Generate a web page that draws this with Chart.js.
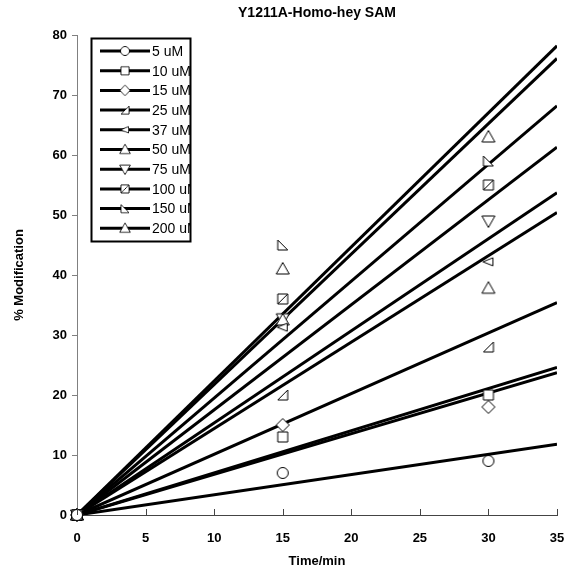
<!DOCTYPE html>
<html>
<head>
<meta charset="utf-8">
<script src="https://cdn.jsdelivr.net/npm/chart.js@4/dist/chart.umd.min.js"></script>
<style>
  html, body { margin: 0; padding: 0; background: #fff; }
  #wrap { width: 568px; height: 573px; }
</style>
</head>
<body>
<div id="wrap"><canvas id="chart" width="568" height="573"></canvas></div>
<script>
// data
const times = [0, 15, 30];
const labels = ['5 uM', '10 uM', '15 uM', '25 uM', '37 uM', '50 uM', '75 uM', '100 uM', '150 uM', '200 uM'];
const c5 = [0, 7, 9];
const c10 = [0, 13, 20];
const c15 = [0, 15, 18];
const c25 = [0, 20, 28];
const c37 = [0, 31.3, 42.2];
const c50 = [0, 32.5, 37.8];
const c75 = [0, 32.7, 49];
const c100 = [0, 36, 55];
const c150 = [0, 45, 59];
const c200 = [0, 41, 63];
// fitted lines: value at the end of the x range
const fitX = [0, 35];
const fitEnd = [11.8, 24.6, 23.7, 35.4, 53.7, 50.4, 61.3, 68.2, 76.1, 78.2];
const xTicks = [0, 5, 10, 15, 20, 25, 30, 35];
const yTicks = [0, 10, 20, 30, 40, 50, 60, 70, 80];

const series = [c5, c10, c15, c25, c37, c50, c75, c100, c150, c200];

// marker shapes
function shape(ctx, kind) {
    ctx.beginPath();
    switch (kind) {
        case 'circle': ctx.arc(0, 0, 5.5, 0, Math.PI * 2); break;
        case 'square': ctx.rect(-5, -5, 10, 10); break;
        case 'diamond':
            ctx.moveTo(0, -6.5); ctx.lineTo(6.5, 0); ctx.lineTo(0, 6.5); ctx.lineTo(-6.5, 0); ctx.closePath(); break;
        case 'rtri':
            ctx.moveTo(-5, 5); ctx.lineTo(5, 5); ctx.lineTo(5, -5); ctx.closePath(); break;
        case 'ltri':
            ctx.moveTo(-5.5, 0); ctx.lineTo(4.5, -4); ctx.lineTo(4.5, 4); ctx.closePath(); break;
        case 'up':
            ctx.moveTo(0, -6.5); ctx.lineTo(6.5, 5); ctx.lineTo(-6.5, 5); ctx.closePath(); break;
        case 'down':
            ctx.moveTo(0, 6.5); ctx.lineTo(6.5, -5); ctx.lineTo(-6.5, -5); ctx.closePath(); break;
        case 'sqdiag':
            ctx.rect(-5, -5, 10, 10); break;
        case 'ltri2':
            ctx.moveTo(-5, -5); ctx.lineTo(-5, 5); ctx.lineTo(5, 5); ctx.closePath(); break;
    }
    ctx.fillStyle = '#fff';
    ctx.fill();
    ctx.stroke();
    if (kind === 'sqdiag') {
        ctx.beginPath();
        ctx.moveTo(-5, 5); ctx.lineTo(5, -5);
        ctx.stroke();
    }
}

function makeMarker(kind) {
    const c = document.createElement('canvas');
    c.width = 16; c.height = 16;
    const ctx = c.getContext('2d');
    ctx.translate(8, 8);
    ctx.strokeStyle = '#000';
    ctx.lineWidth = 1;
    shape(ctx, kind);
    return c;
}

const kinds = ['circle', 'square', 'diamond', 'rtri', 'ltri', 'up', 'down', 'sqdiag', 'ltri2', 'up'];
const markers = kinds.map(makeMarker);

const datasets = [];
series.forEach((vals, i) => {
    datasets.push({
        label: labels[i],
        data: times.map((t, j) => ({ x: t, y: vals[j] })),
        showLine: false,
        pointStyle: markers[i],
        pointRadius: 8,
        clip: false,
        order: 0
    });
    datasets.push({
        label: labels[i] + ' fit',
        data: fitX.map((t, j) => ({ x: t, y: j === 0 ? 0 : fitEnd[i] })),
        showLine: true,
        borderColor: '#000',
        borderWidth: 3,
        pointRadius: 0,
        order: 1
    });
});

// title, inward x ticks and boxed legend
const extras = {
    id: 'extras',
    afterDraw(chart) {
        const ctx = chart.ctx;
        const x = chart.scales.x;
        const area = chart.chartArea;
        ctx.save();
        ctx.fillStyle = '#000';
        ctx.font = 'bold 14px "Liberation Sans", Arial, sans-serif';
        ctx.textAlign = 'center';
        ctx.textBaseline = 'middle';
        ctx.fillText('Y1211A-Homo-hey SAM', 317, 13);

        ctx.strokeStyle = '#444';
        ctx.lineWidth = 1;
        xTicks.forEach(t => {
            const px = Math.round(x.getPixelForValue(t)) + 0.5;
            ctx.beginPath();
            ctx.moveTo(px, area.bottom);
            ctx.lineTo(px, area.bottom - 6);
            ctx.stroke();
        });

        // legend
        const bx = 91.5, by = 38.5, bw = 99, bh = 203;
        ctx.fillStyle = '#fff';
        ctx.fillRect(bx, by, bw, bh);
        ctx.save();
        ctx.beginPath();
        ctx.rect(bx, by, bw, bh);
        ctx.clip();
        ctx.strokeStyle = '#000';
        ctx.font = '14px "Liberation Sans", Arial, sans-serif';
        ctx.textAlign = 'left';
        labels.forEach((lab, i) => {
            const ly = 51 + i * 19.7;
            ctx.beginPath();
            ctx.lineWidth = 3;
            ctx.moveTo(100, ly);
            ctx.lineTo(150, ly);
            ctx.stroke();
            ctx.drawImage(markers[i], 125 - 6.5, ly - 6.5, 13, 13);
            ctx.fillStyle = '#000';
            ctx.fillText(lab, 152, ly + 1);
        });
        ctx.restore();
        ctx.strokeStyle = '#000';
        ctx.lineWidth = 2;
        ctx.strokeRect(bx, by, bw, bh);
        ctx.restore();
    }
};

new Chart(document.getElementById('chart'), {
    type: 'scatter',
    data: { datasets },
    options: {
        responsive: false,
        animation: false,
        layout: { padding: { top: 35, right: 11, left: 0, bottom: 0 } },
        scales: {
            x: {
                type: 'linear',
                min: 0, max: 35,
                afterFit(s) { s.height = 58; s.paddingLeft = 0; s.paddingRight = 0; },
                afterBuildTicks(s) { s.ticks = xTicks.map(v => ({ value: v })); },
                grid: { display: false },
                border: { color: '#444', width: 1 },
                ticks: { color: '#000', font: { family: '"Liberation Sans", Arial', size: 13, weight: 'bold' }, padding: 8 },
                title: { display: true, text: 'Time/min', color: '#000', font: { family: '"Liberation Sans", Arial', size: 13, weight: 'bold' }, padding: { top: 10 } }
            },
            y: {
                type: 'linear',
                min: 0, max: 80,
                afterFit(s) { s.width = 77; },
                afterBuildTicks(s) { s.ticks = yTicks.map(v => ({ value: v })); },
                grid: { drawOnChartArea: false, tickLength: 5, color: '#808080' },
                border: { color: '#808080', width: 1 },
                ticks: { color: '#000', font: { family: '"Liberation Sans", Arial', size: 13, weight: 'bold' }, padding: 5 },
                title: { display: true, text: '% Modification', color: '#000', font: { family: '"Liberation Sans", Arial', size: 13, weight: 'bold' }, padding: { top: 12, bottom: 0 } }
            }
        },
        plugins: {
            legend: { display: false },
            tooltip: { enabled: false }
        }
    },
    plugins: [extras]
});
</script>
</body>
</html>
